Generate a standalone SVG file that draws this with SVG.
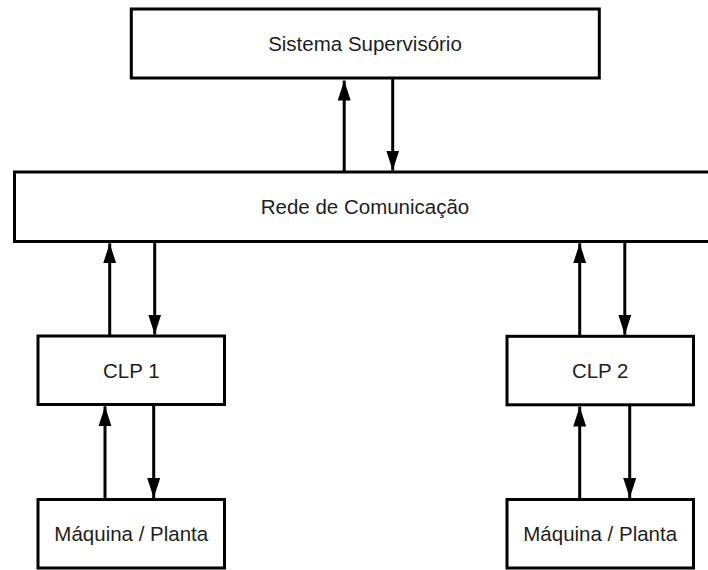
<svg xmlns="http://www.w3.org/2000/svg" width="708" height="570" viewBox="0 0 708 570">
  <style>
    .box { fill: #ffffff; stroke: #000000; stroke-width: 3; }
    .label { font-family: "Liberation Sans", Arial, sans-serif; font-size: 20.5px; fill: #1e1e1e; text-anchor: middle; }
    .link { stroke: #000000; stroke-width: 3; fill: none; marker-end: url(#head); }
  </style>
  <defs>
    <marker id="head" markerUnits="userSpaceOnUse" markerWidth="20" markerHeight="14" viewBox="0 0 20 14" refX="20" refY="7" orient="auto">
      <path d="M0,0.5 L20,7 L0,13.5 z" fill="#000000"/>
    </marker>
  </defs>

  <rect width="708" height="570" fill="#ffffff"/>

  <g id="supervisorio">
    <rect class="box" x="131.3" y="9" width="468" height="69"/>
    <text class="label" x="365" y="50.5">Sistema Supervisório</text>
  </g>

  <g id="rede">
    <rect class="box" x="14.5" y="172" width="712" height="69.5"/>
    <text class="label" x="365" y="214">Rede de Comunicação</text>
  </g>

  <g id="clp1">
    <rect class="box" x="38" y="336" width="186.5" height="68.5"/>
    <text class="label" x="131.3" y="378">CLP 1</text>
  </g>

  <g id="clp2">
    <rect class="box" x="507" y="336.3" width="186.5" height="68.5"/>
    <text class="label" x="600.2" y="378">CLP 2</text>
  </g>

  <g id="maquina1">
    <rect class="box" x="38" y="499.5" width="186.5" height="68.5"/>
    <text class="label" x="131.3" y="540.5">Máquina / Planta</text>
  </g>

  <g id="maquina2">
    <rect class="box" x="507" y="499.5" width="186.5" height="68.5"/>
    <text class="label" x="600.2" y="540.5">Máquina / Planta</text>
  </g>

  <g id="connectors">
    <!-- supervisory system <-> network -->
    <line class="link" x1="344.2" y1="172" x2="344.2" y2="80.5"/>
    <line class="link" x1="392.7" y1="78" x2="392.7" y2="170.5"/>
    <!-- network <-> CLP 1 -->
    <line class="link" x1="109.7" y1="336" x2="109.7" y2="243.3"/>
    <line class="link" x1="154.7" y1="241.7" x2="154.7" y2="334.5"/>
    <!-- network <-> CLP 2 -->
    <line class="link" x1="579.7" y1="336.3" x2="579.7" y2="243.3"/>
    <line class="link" x1="624.8" y1="241.7" x2="624.8" y2="334.8"/>
    <!-- CLP 1 <-> machine -->
    <line class="link" x1="105" y1="499.5" x2="105" y2="406.3"/>
    <line class="link" x1="153.7" y1="404.5" x2="153.7" y2="498"/>
    <!-- CLP 2 <-> machine -->
    <line class="link" x1="579.7" y1="499.5" x2="579.7" y2="406.6"/>
    <line class="link" x1="629.7" y1="404.8" x2="629.7" y2="498"/>
  </g>
</svg>
